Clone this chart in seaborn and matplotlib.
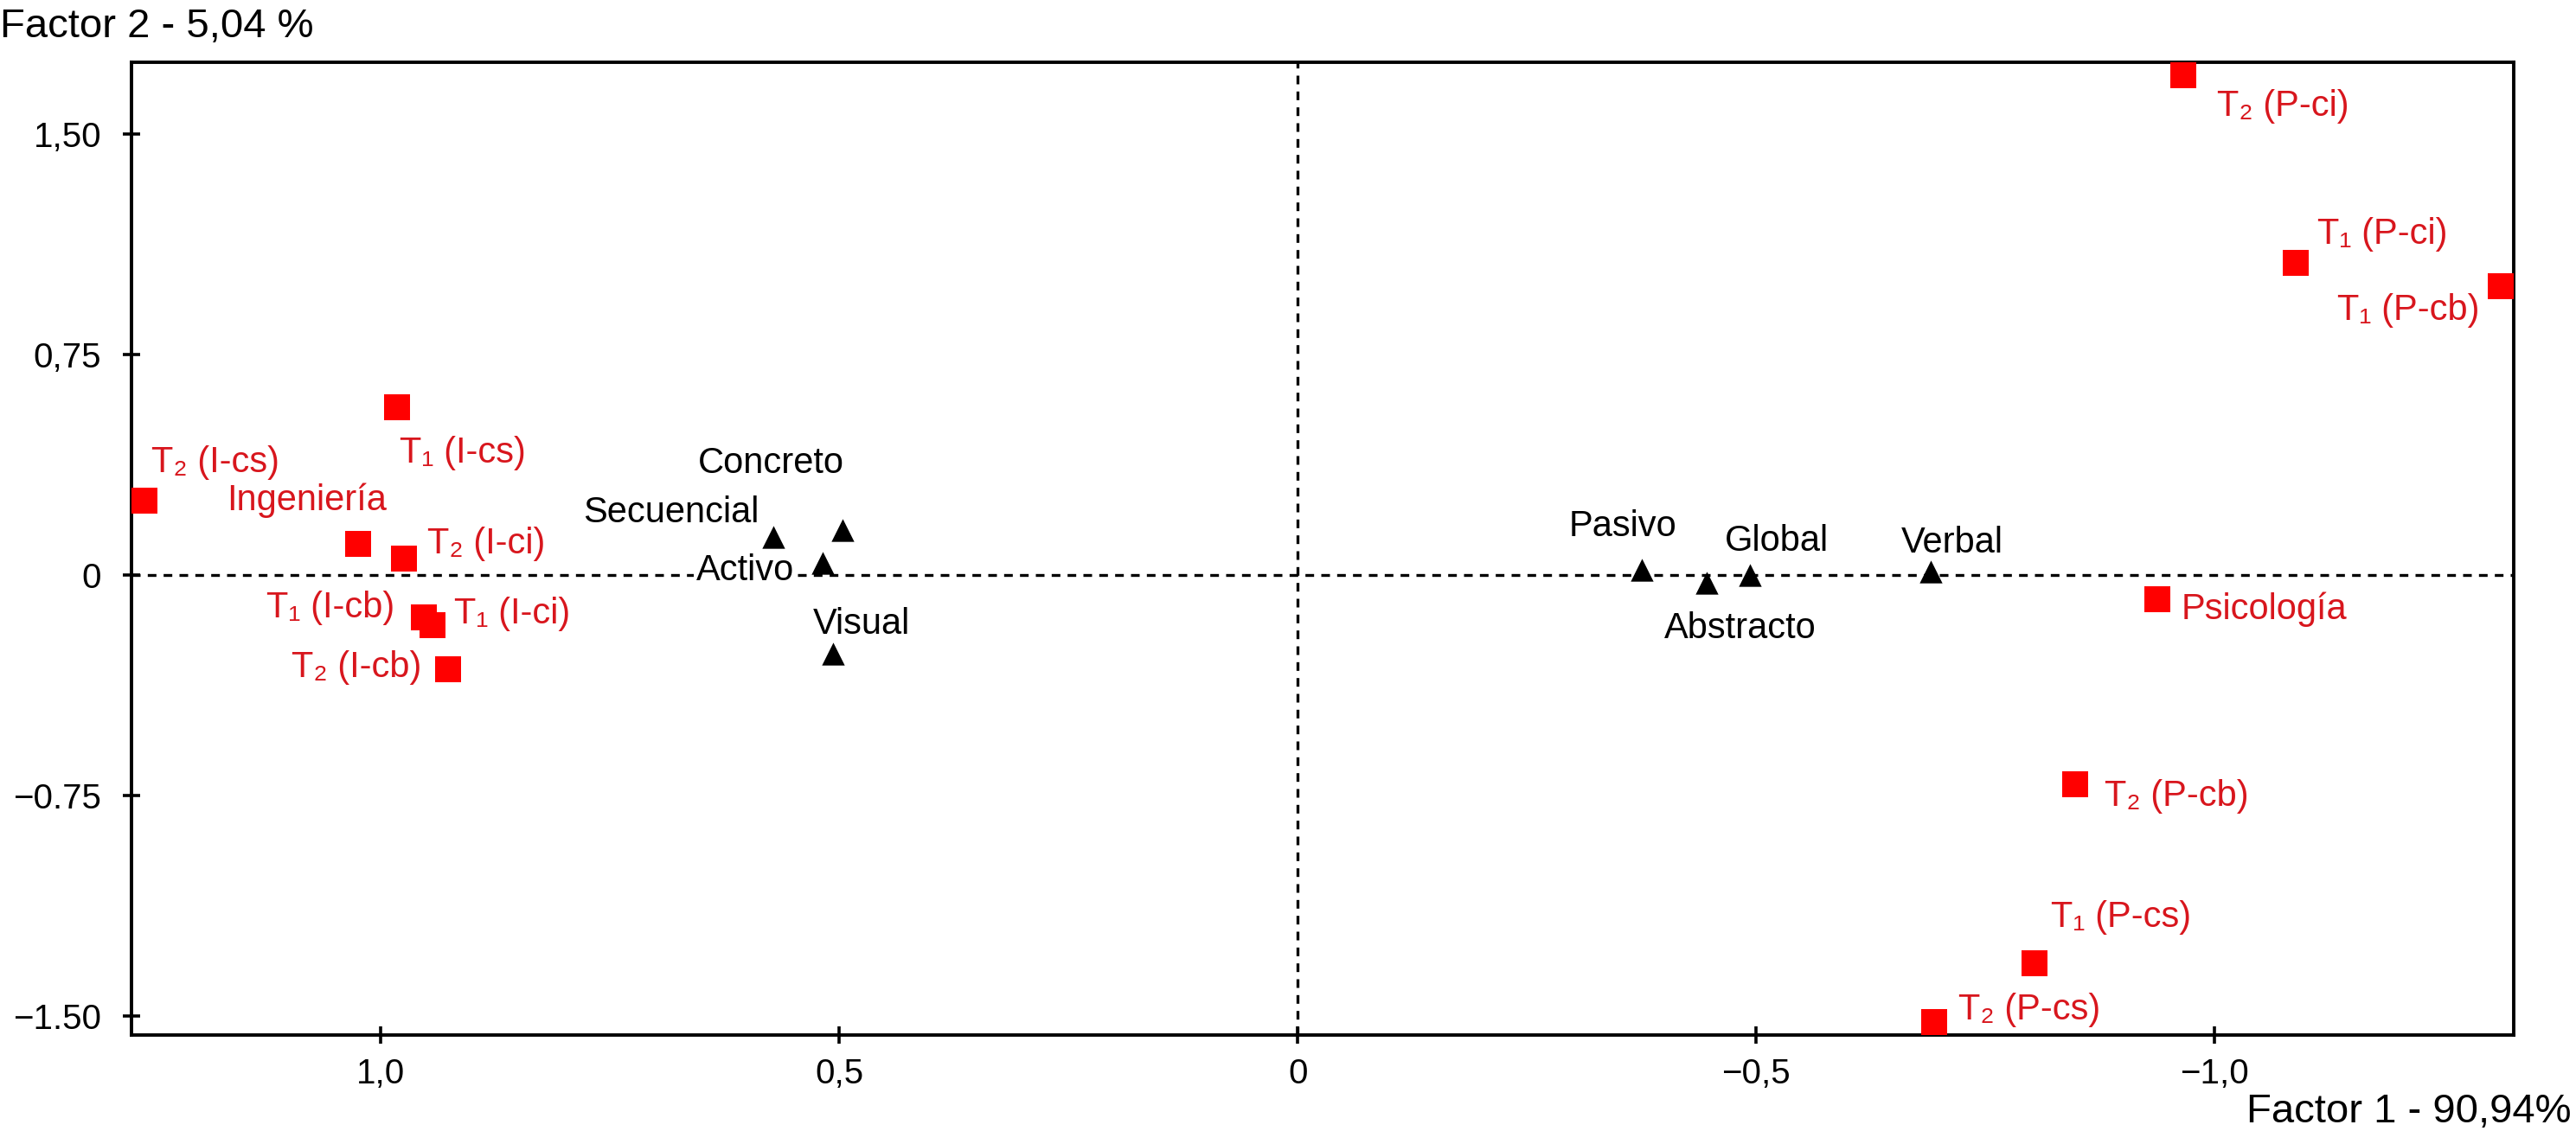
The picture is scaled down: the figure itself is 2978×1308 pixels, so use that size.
import numpy as np
import pandas as pd
import seaborn as sns
import matplotlib
matplotlib.use("Agg")
import matplotlib.pyplot as plt

# modalidades (cuadrados rojos)
grupo_etiquetas = ["T₂ (I-cs)", "T₁ (I-cs)", "Ingeniería", "T₂ (I-ci)", "T₁ (I-cb)", "T₁ (I-ci)", "T₂ (I-cb)",
                   "T₂ (P-ci)", "T₁ (P-ci)", "T₁ (P-cb)", "Psicología", "T₂ (P-cb)", "T₁ (P-cs)", "T₂ (P-cs)"]
grupo_f1 = [1.258, 0.982, 1.025, 0.975, 0.953, 0.944, 0.927, -0.966, -1.088, -1.312, -0.937, -0.848, -0.803, -0.694]
grupo_f2 = [0.251, 0.569, 0.106, 0.056, -0.145, -0.173, -0.323, 1.700, 1.060, 0.982, -0.084, -0.714, -1.322, -1.522]

# estilos de aprendizaje (triangulos negros)
estilo_etiquetas = ["Secuencial", "Concreto", "Activo", "Visual", "Pasivo", "Abstracto", "Global", "Verbal"]
estilo_f1 = [0.572, 0.496, 0.518, 0.507, -0.375, -0.446, -0.493, -0.690]
estilo_f2 = [0.128, 0.151, 0.039, -0.268, 0.017, -0.028, 0.0, 0.011]

x_ticks = [1.0, 0.5, 0.0, -0.5, -1.0]
x_ticklabels = ["1,0", "0,5", "0", "\u22120,5", "\u22121,0"]
y_ticks = [1.5, 0.75, 0.0, -0.75, -1.5]
y_ticklabels = ["1,50", "0,75", "0", "\u22120.75", "\u22121.50"]

# desplazamiento de etiquetas en puntos (dx, dy, alineacion)
off_grupo = [(3, 16, "left"), (1, -19, "left"), (12, 18, "right"), (10, 6, "left"), (-12, 4, "right"),
             (9, 5, "left"), (-11, 1, "right"), (14, -13, "left"), (9, 12, "left"), (-9, -10, "right"),
             (10, -4, "left"), (12, -5, "left"), (7, 19, "left"), (10, 5, "left")]
off_estilo = [(-6, 10, "right"), (-30, 28, "center"), (-12, -3, "right"), (12, 12, "center"),
              (-8, 18, "center"), (14, -19, "center"), (11, 14, "center"), (9, 12, "center")]

df_grupo = pd.DataFrame({"f1": grupo_f1, "f2": grupo_f2, "etiqueta": grupo_etiquetas})
df_estilo = pd.DataFrame({"f1": estilo_f1, "f2": estilo_f2, "etiqueta": estilo_etiquetas})

sns.set_theme(style="white")
plt.rcParams["font.family"] = ["Liberation Sans", "DejaVu Sans"]

fig = plt.figure(figsize=(14.89, 6.54), dpi=200)
ax = fig.add_axes([0.0510, 0.0849, 0.9248, 0.8601])

ax.axhline(0, color="black", lw=1.2, ls=(0, (3, 2.5)), zorder=1)
ax.axvline(0, color="black", lw=1.2, ls=(0, (3, 2.5)), zorder=1)

sns.scatterplot(data=df_grupo, x="f1", y="f2", marker="s", color="#ff0000", s=115,
                linewidth=0, ax=ax, zorder=3, clip_on=False)
sns.scatterplot(data=df_estilo, x="f1", y="f2", marker="^", color="black", s=90,
                linewidth=0, ax=ax, zorder=3)

for (x, y, t), (dx, dy, ha) in zip(df_grupo[["f1", "f2", "etiqueta"]].values, off_grupo):
    ax.annotate(t, (x, y), xytext=(dx, dy), textcoords="offset points", ha=ha, va="center",
                fontsize=15, color="#d8161d", annotation_clip=False)
for (x, y, t), (dx, dy, ha) in zip(df_estilo[["f1", "f2", "etiqueta"]].values, off_estilo):
    fondo = dict(facecolor="white", edgecolor="none", pad=1) if t == "Activo" else None
    ax.annotate(t, (x, y), xytext=(dx, dy), textcoords="offset points", ha=ha, va="center",
                fontsize=15, color="black", bbox=fondo, zorder=2)

ax.set_xlim(1.272, -1.326)
ax.set_ylim(-1.566, 1.744)
ax.set_xticks(x_ticks)
ax.set_xticklabels(x_ticklabels)
ax.set_yticks(y_ticks)
ax.set_yticklabels(y_ticklabels)
ax.set_xlabel("")
ax.set_ylabel("")
ax.tick_params(axis="both", direction="inout", length=7, width=1.3, color="black",
               labelsize=14.5, labelcolor="black", bottom=True, left=True)
ax.tick_params(axis="y", pad=9)
ax.tick_params(axis="x", pad=6)
for sp in ax.spines.values():
    sp.set_visible(True)
    sp.set_color("black")
    sp.set_linewidth(1.4)

fig.text(0.0, 0.967, "Factor 2 - 5,04 %", fontsize=17, ha="left", va="baseline", color="black")
fig.text(0.998, 0.008, "Factor 1 - 90,94%", fontsize=17, ha="right", va="baseline", color="black")

fig.savefig("out.png", dpi=200, facecolor="white")
